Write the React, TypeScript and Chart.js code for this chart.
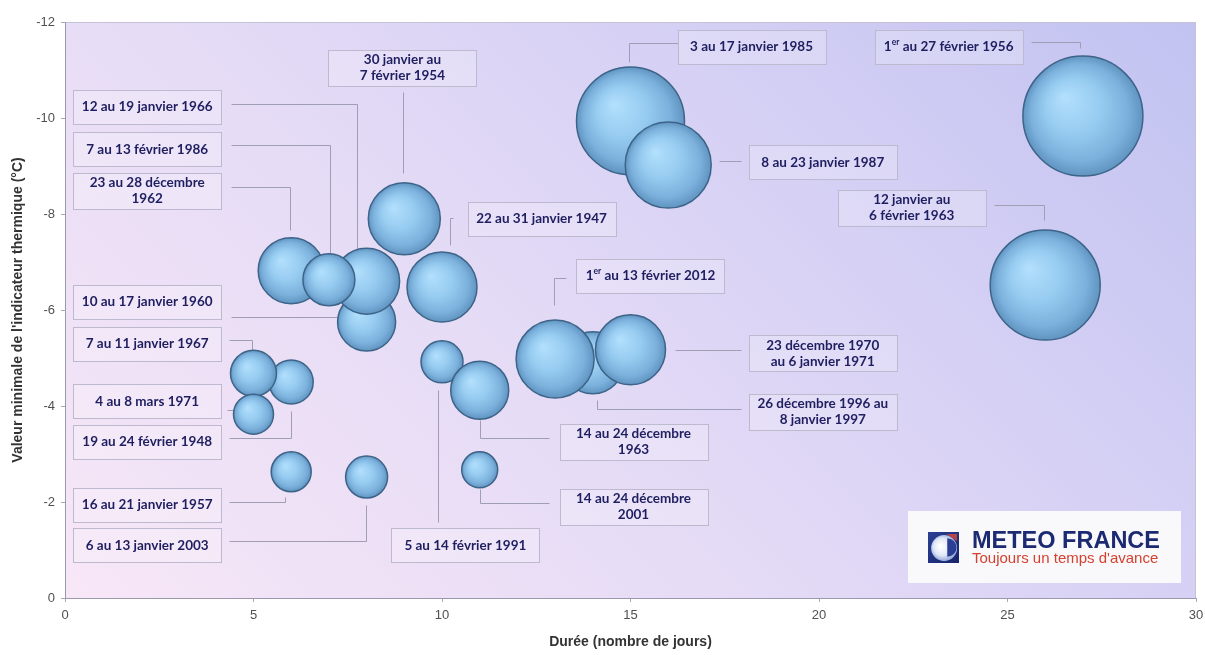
import React, { useEffect, useRef } from "react";
import { Chart, registerables } from "chart.js";

Chart.register(...registerables);

// ---- Data (drawing order: later items are drawn on top) ----
const periods: string[] = [
  "19 au 24 février 1948",
  "7 au 11 janvier 1967",
  "4 au 8 mars 1971",
  "16 au 21 janvier 1957",
  "6 au 13 janvier 2003",
  "10 au 17 janvier 1960",
  "23 au 28 décembre\n1962",
  "12 au 19 janvier 1966",
  "7 au 13 février 1986",
  "30 janvier au\n7 février 1954",
  "22 au 31 janvier 1947",
  "5 au 14 février 1991",
  "14 au 24 décembre\n1963",
  "14 au 24 décembre\n2001",
  "26 décembre 1996 au\n8 janvier 1997",
  "1^er^ au 13 février 2012",
  "23 décembre 1970\nau 6 janvier 1971",
  "3 au 17 janvier 1985",
  "8 au 23 janvier 1987",
  "1^er^ au 27 février 1956",
  "12 janvier au\n6 février 1963",
];

const durations: number[] = [6, 5, 5, 6, 8, 8, 6, 8, 7, 9, 10, 10, 11, 11, 14, 13, 15, 15, 16, 27, 26];

const minIndicator: number[] = [
  -4.5, -4.68, -3.83, -2.63, -2.52, -5.75, -6.82, -6.6, -6.63, -7.9, -6.48,
  -4.92, -4.33, -2.67, -4.9, -4.98, -5.17, -9.94, -9.02, -10.04, -6.52,
];

// bubble size (intensity of the cold wave), expressed as radius
const intensity: number[] = [22, 23, 20, 20, 21, 29, 33, 33, 26, 36, 35, 21, 29, 18, 31, 39, 35, 54, 43, 60, 55];

const xTickStep = 5;
const yTickStep = 2;

// ---- Annotation layout (in data units) ----
type LabelLayout = { box: [number, number]; leader: [number, number][] };
const labelLayout: LabelLayout[] = [
  { box: [2.18, -3.25], leader: [[4.35, -3.33], [6.0, -3.33], [6.0, -3.9]] },
  { box: [2.18, -5.29], leader: [[4.35, -5.375], [4.96, -5.375], [4.96, -5.17]] },
  { box: [2.18, -4.1], leader: [[4.3, -3.92], [4.46, -3.92]] },
  { box: [2.18, -1.94], leader: [[4.35, -2.0], [5.84, -2.0], [5.84, -2.1]] },
  { box: [2.18, -1.1], leader: [[4.35, -1.19], [7.99, -1.19], [7.99, -1.94]] },
  { box: [2.18, -6.17], leader: [[4.41, -5.85], [7.3, -5.85]] },
  { box: [2.18, -8.48], leader: [[4.41, -8.56], [5.97, -8.56], [5.97, -7.67]] },
  { box: [2.18, -10.23], leader: [[4.41, -10.29], [7.75, -10.29], [7.75, -7.25]] },
  { box: [2.18, -9.35], leader: [[4.41, -9.44], [7.04, -9.44], [7.04, -7.19]] },
  { box: [8.95, -11.04], leader: [[8.97, -10.54], [8.97, -8.85]] },
  { box: [12.64, -7.9], leader: [[10.3, -7.92], [10.2, -7.92], [10.2, -7.35]] },
  { box: [10.62, -1.1], leader: [[9.9, -1.58], [9.9, -4.33]] },
  { box: [15.08, -3.25], leader: [[12.85, -3.33], [11.02, -3.33], [11.02, -3.71]] },
  { box: [15.08, -1.9], leader: [[12.85, -1.98], [11.02, -1.98], [11.02, -2.27]] },
  { box: [20.1, -3.875], leader: [[17.92, -3.94], [14.1, -3.94], [14.1, -4.125]] },
  { box: [15.53, -6.71], leader: [[13.3, -6.67], [12.96, -6.67], [12.96, -6.1]] },
  { box: [20.1, -5.1], leader: [[17.92, -5.17], [16.19, -5.17]] },
  { box: [18.21, -11.48], leader: [[16.25, -11.56], [14.95, -11.56], [14.95, -11.17]] },
  { box: [20.1, -9.08], leader: [[17.92, -9.1], [17.36, -9.1]] },
  { box: [23.44, -11.48], leader: [[25.62, -11.58], [26.92, -11.58], [26.92, -11.46]] },
  { box: [22.46, -8.125], leader: [[24.64, -8.19], [25.96, -8.19], [25.96, -7.875]] },
];

const LABEL_FONT = "bold 13.5px Lato, 'Open Sans', sans-serif";
const LABEL_SUP_FONT = "bold 8.5px Lato, 'Open Sans', sans-serif";
const AXIS_FAMILY = "'Liberation Sans', Arial, sans-serif";

function drawRich(ctx: CanvasRenderingContext2D, text: string, cx: number, cy: number) {
  const parts = text.split("^");
  let total = 0;
  const widths: number[] = [];
  parts.forEach((p, i) => {
    ctx.font = i % 2 === 1 ? LABEL_SUP_FONT : LABEL_FONT;
    const w = ctx.measureText(p).width;
    widths.push(w);
    total += w;
  });
  let x = cx - total / 2;
  ctx.textAlign = "left";
  ctx.textBaseline = "middle";
  parts.forEach((p, i) => {
    const sup = i % 2 === 1;
    ctx.font = sup ? LABEL_SUP_FONT : LABEL_FONT;
    ctx.fillText(p, x, sup ? cy - 4.5 : cy);
    x += widths[i];
  });
}

const backgroundPlugin = {
  id: "plotBackground",
  beforeDraw(chart: any) {
    const { ctx, chartArea: a } = chart;
    if (!a) return;
    ctx.save();
    const cx = (a.left + a.right) / 2;
    const cy = (a.top + a.bottom) / 2;
    const d = 500;
    const g = ctx.createLinearGradient(cx - d, cy + d, cx + d, cy - d);
    g.addColorStop(0, "#fbe9f7");
    g.addColorStop(0.4, "#e6dcf6");
    g.addColorStop(0.7, "#d2cef4");
    g.addColorStop(1, "#bcbff0");
    ctx.fillStyle = g;
    ctx.fillRect(a.left, a.top, a.right - a.left, a.bottom - a.top);
    ctx.strokeStyle = "#c4c2d4";
    ctx.lineWidth = 1;
    ctx.strokeRect(a.left + 0.5, a.top + 0.5, a.right - a.left - 1, a.bottom - a.top);
    ctx.restore();
  },
};

const annotationPlugin = {
  id: "periodLabels",
  beforeDatasetsDraw(chart: any) {
    const { ctx } = chart;
    const xs = chart.scales.x;
    const ys = chart.scales.y;
    ctx.save();
    ctx.strokeStyle = "#a09eb4";
    ctx.lineWidth = 1;
    labelLayout.forEach((l) => {
      ctx.beginPath();
      l.leader.forEach(([x, y], i) => {
        const px = Math.round(xs.getPixelForValue(x)) + 0.5;
        const py = Math.round(ys.getPixelForValue(y)) + 0.5;
        if (i === 0) ctx.moveTo(px, py);
        else ctx.lineTo(px, py);
      });
      ctx.stroke();
    });
    labelLayout.forEach((l, i) => {
      const lines = periods[i].split("\n");
      const bw = 148;
      const bh = lines.length > 1 ? 36 : 34;
      const cx = xs.getPixelForValue(l.box[0]);
      const cy = ys.getPixelForValue(l.box[1]);
      const left = Math.round(cx - bw / 2) + 0.5;
      const top = Math.round(cy - bh / 2) + 0.5;
      ctx.fillStyle = "rgba(255,255,255,0.22)";
      ctx.fillRect(left, top, bw, bh);
      ctx.strokeStyle = "#bdbacf";
      ctx.strokeRect(left, top, bw, bh);
      ctx.fillStyle = "#1e1e60";
      const lh = 16;
      lines.forEach((ln, k) => {
        drawRich(ctx, ln, cx, cy + (k - (lines.length - 1) / 2) * lh);
      });
    });
    ctx.restore();
  },
};

const logoPlugin = {
  id: "meteoLogo",
  afterDatasetsDraw(chart: any) {
    const { ctx, chartArea: a } = chart;
    const w = 273;
    const h = 72;
    const right = a.right - 15;
    const bottom = a.bottom - 15;
    const left = right - w;
    const top = bottom - h;
    ctx.save();
    ctx.fillStyle = "#f9f9fc";
    ctx.fillRect(left, top, w, h);
    const ix = left + 20;
    const iy = top + 21;
    const s = 31;
    const ig = ctx.createLinearGradient(ix, iy, ix + s, iy + s);
    ig.addColorStop(0, "#2a3f94");
    ig.addColorStop(1, "#16246a");
    ctx.fillStyle = ig;
    ctx.fillRect(ix, iy, s, s);
    const cg = ctx.createRadialGradient(ix + s * 0.4, iy + s * 0.45, 1, ix + s * 0.5, iy + s * 0.5, s * 0.45);
    cg.addColorStop(0, "#ffffff");
    cg.addColorStop(0.6, "#dfe6f6");
    cg.addColorStop(1, "#8fa2d6");
    ctx.fillStyle = cg;
    ctx.beginPath();
    ctx.arc(ix + s * 0.52, iy + s * 0.52, s * 0.42, 0, Math.PI * 2);
    ctx.fill();
    ctx.fillStyle = "#2a3f94";
    ctx.beginPath();
    ctx.arc(ix + s * 0.62, iy + s * 0.5, s * 0.3, -Math.PI / 2, Math.PI / 2);
    ctx.fill();
    ctx.fillStyle = "#d84a3a";
    ctx.beginPath();
    ctx.moveTo(ix + s * 0.6, iy + 2);
    ctx.lineTo(ix + s - 2, iy + 2);
    ctx.lineTo(ix + s - 2, iy + s * 0.3);
    ctx.closePath();
    ctx.globalAlpha = 0.8;
    ctx.fill();
    ctx.globalAlpha = 1;
    ctx.textAlign = "left";
    ctx.textBaseline = "alphabetic";
    ctx.fillStyle = "#1c2a72";
    ctx.font = "bold 23.5px 'Liberation Sans', Arial, sans-serif";
    ctx.fillText("METEO FRANCE", left + 64, top + 37);
    ctx.fillStyle = "#d5412e";
    ctx.font = "15px 'Liberation Sans', Arial, sans-serif";
    ctx.fillText("Toujours un temps d'avance", left + 64, top + 52);
    ctx.restore();
  },
};

export default function App() {
  const canvasRef = useRef<HTMLCanvasElement | null>(null);

  useEffect(() => {
    const canvas = canvasRef.current;
    if (!canvas) return;
    const points = durations.map((d, i) => ({ x: d, y: minIndicator[i], r: intensity[i] }));
    const chart = new Chart(canvas, {
      type: "bubble",
      data: {
        datasets: [
          {
            label: "Vagues de froid",
            data: points,
            borderColor: "#3d6488",
            borderWidth: 1.5,
            hoverBorderWidth: 1.5,
            hoverRadius: 0,
            clip: false,
            backgroundColor: (c: any) => {
              const fallback = "#8cc3ea";
              if (c.type !== "data") return fallback;
              const ch = c.chart;
              const xs = ch.scales?.x;
              const ys = ch.scales?.y;
              if (!xs || !ys || !ch.chartArea) return fallback;
              const raw = c.raw;
              const cx = xs.getPixelForValue(raw.x);
              const cy = ys.getPixelForValue(raw.y);
              const r = raw.r;
              const g = ch.ctx.createRadialGradient(cx - r * 0.3, cy - r * 0.3, r * 0.05, cx, cy, r);
              g.addColorStop(0, "#b0defc");
              g.addColorStop(0.45, "#96cbf0");
              g.addColorStop(0.8, "#7ab0db");
              g.addColorStop(1, "#6194c1");
              return g;
            },
          } as any,
        ],
      },
      options: {
        responsive: false,
        animation: false,
        devicePixelRatio: 1,
        layout: { autoPadding: false, padding: { top: 22, right: 9, left: 0, bottom: 0 } },
        plugins: {
          legend: { display: false },
          tooltip: { enabled: false },
        },
        scales: {
          x: {
            type: "linear",
            min: 0,
            max: 30,
            afterFit: (s: any) => {
              s.height = 57;
              s.paddingLeft = 0;
              s.paddingRight = 0;
            },
            ticks: {
              stepSize: xTickStep,
              color: "#505050",
              font: { family: AXIS_FAMILY, size: 13 },
              padding: 6,
            },
            grid: { drawOnChartArea: false, color: "#a8a8b8", tickLength: 4 },
            border: { color: "#9a98ac" },
            title: {
              display: true,
              text: "Durée (nombre de jours)",
              color: "#333",
              font: { family: AXIS_FAMILY, size: 14, weight: "bold" },
              padding: { top: 0, bottom: 4 },
            },
          },
          y: {
            type: "linear",
            min: -12,
            max: 0,
            reverse: true,
            afterFit: (s: any) => {
              s.width = 65;
              s.paddingTop = 0;
              s.paddingBottom = 0;
            },
            ticks: {
              stepSize: yTickStep,
              color: "#505050",
              font: { family: AXIS_FAMILY, size: 13 },
              padding: 6,
            },
            grid: { drawOnChartArea: false, color: "#a8a8b8", tickLength: 4 },
            border: { color: "#9a98ac" },
            title: {
              display: true,
              text: "Valeur minimale de l'indicateur thermique (°C)",
              color: "#333",
              font: { family: AXIS_FAMILY, size: 14, weight: "bold" },
              padding: { top: 10, bottom: 0 },
            },
          },
        },
      },
      plugins: [backgroundPlugin, annotationPlugin, logoPlugin],
    });
    return () => chart.destroy();
  }, []);

  return (
    <div style={{ position: "fixed", left: 0, top: 0, width: 1205, height: 655, background: "#fff" }}>
      <canvas ref={canvasRef} width={1205} height={655} style={{ width: 1205, height: 655, display: "block" }} />
    </div>
  );
}
